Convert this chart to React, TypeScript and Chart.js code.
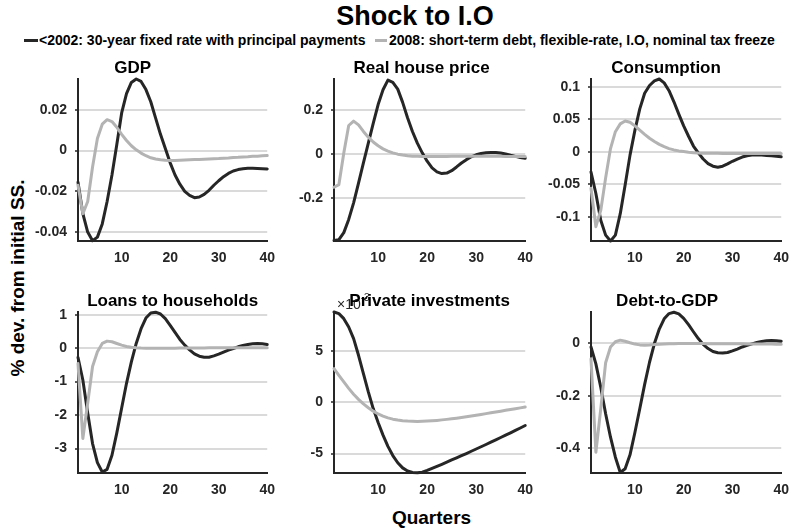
import { useEffect, useRef } from "react";
import { Chart, registerables } from "chart.js";

Chart.register(...registerables);

const FONT = '"Liberation Sans", Arial, Helvetica, sans-serif';
const DARK = "#262626";
const LIGHT = "#b3b3b3";
const GRID = "#dadada";

// Quarters after the shock
const QUARTERS = [
  1, 2, 3, 4, 5, 6, 7, 8, 9, 10, 11, 12, 13, 14, 15, 16, 17, 18, 19, 20,
  21, 22, 23, 24, 25, 26, 27, 28, 29, 30, 31, 32, 33, 34, 35, 36, 37, 38, 39, 40,
];
const X_TICKS = [10, 20, 30, 40];

const SERIES_2002 = "<2002: 30-year fixed rate with principal payments";
const SERIES_2008 = "2008: short-term debt, flexible-rate, I.O, nominal tax freeze";

// GDP
const GDP_2002 = [
  -0.0155, -0.031, -0.040, -0.0443, -0.0425, -0.036, -0.025, -0.012, 0.003, 0.0185,
  0.028, 0.0335, 0.0352, 0.034, 0.030, 0.024, 0.016, 0.008, 0.001, -0.006,
  -0.012, -0.0165, -0.020, -0.022, -0.0231, -0.0228, -0.0215, -0.0195, -0.017, -0.0148,
  -0.0128, -0.0112, -0.0100, -0.0093, -0.0089, -0.0087, -0.0087, -0.0088, -0.0089, -0.0090,
];
const GDP_2008 = [
  -0.017, -0.031, -0.025, -0.008, 0.006, 0.013, 0.0152, 0.0143, 0.0115, 0.008,
  0.005, 0.0024, 0.0004, -0.0012, -0.0025, -0.0035, -0.0041, -0.0045, -0.0047, -0.0048,
  -0.0048, -0.0047, -0.0046, -0.0045, -0.0044, -0.0043, -0.0042, -0.0041, -0.004, -0.0039,
  -0.0037, -0.0036, -0.0034, -0.0033, -0.0031, -0.003, -0.0028, -0.0027, -0.0025, -0.0024,
];
const GDP_TICKS = [-0.04, -0.02, 0, 0.02];
const GDP_RANGE = [-0.0444, 0.0352];

// Real house price
const HOUSE_2002 = [
  -0.392, -0.388, -0.356, -0.296, -0.221, -0.131, -0.04, 0.05, 0.14, 0.225,
  0.292, 0.336, 0.326, 0.295, 0.235, 0.165, 0.103, 0.05, 0.006, -0.032,
  -0.062, -0.08, -0.088, -0.086, -0.075, -0.058, -0.04, -0.025, -0.012, -0.003,
  0.003, 0.006, 0.0075, 0.0075, 0.005, 0.001, -0.005, -0.01, -0.015, -0.019,
];
const HOUSE_2008 = [
  -0.15, -0.138, 0.005, 0.13, 0.15, 0.133, 0.103, 0.077, 0.055, 0.038,
  0.024, 0.014, 0.006, 0.0, -0.004, -0.007, -0.009, -0.01, -0.011, -0.011,
  -0.011, -0.011, -0.0105, -0.0105, -0.01, -0.01, -0.0095, -0.0095, -0.0095, -0.0095,
  -0.0095, -0.0095, -0.01, -0.01, -0.01, -0.0105, -0.0105, -0.0105, -0.011, -0.011,
];
const HOUSE_TICKS = [-0.2, 0, 0.2];
const HOUSE_RANGE = [-0.394, 0.341];

// Consumption
const CONS_2002 = [
  -0.031, -0.064, -0.105, -0.128, -0.137, -0.128, -0.095, -0.051, -0.005, 0.033,
  0.066, 0.09, 0.102, 0.109, 0.112, 0.106, 0.094, 0.077, 0.058, 0.04,
  0.024, 0.009, -0.0015, -0.011, -0.018, -0.022, -0.0235, -0.022, -0.0185, -0.0145,
  -0.011, -0.008, -0.006, -0.005, -0.0046, -0.0048, -0.0054, -0.006, -0.0066, -0.0075,
];
const CONS_2008 = [
  -0.056, -0.115, -0.09, -0.04, 0.005, 0.031, 0.043, 0.0475, 0.0455, 0.04,
  0.0335, 0.027, 0.021, 0.016, 0.0115, 0.008, 0.005, 0.003, 0.0015, 0.0005,
  -0.0005, -0.0012, -0.0017, -0.002, -0.0022, -0.0023, -0.0023, -0.0024, -0.0024, -0.0024,
  -0.0024, -0.0025, -0.0025, -0.0025, -0.0025, -0.0025, -0.0025, -0.0025, -0.0025, -0.0025,
];
const CONS_TICKS = [-0.1, -0.05, 0, 0.05, 0.1];
const CONS_RANGE = [-0.137, 0.112];

// Loans to households
const LOANS_2002 = [
  -0.28, -0.95, -1.94, -2.85, -3.42, -3.7, -3.62, -3.2, -2.53, -1.79,
  -1.05, -0.41, 0.14, 0.58, 0.9, 1.05, 1.075, 1.02, 0.88, 0.68,
  0.47, 0.26, 0.09, -0.05, -0.17, -0.24, -0.27, -0.27, -0.23, -0.18,
  -0.12, -0.06, -0.01, 0.04, 0.08, 0.11, 0.13, 0.14, 0.13, 0.11,
];
const LOANS_2008 = [
  -0.46, -2.7, -1.64, -0.55, -0.11, 0.14, 0.21, 0.19, 0.14, 0.09,
  0.05, 0.03, 0.015, 0.005, 0.0, -0.005, -0.005, -0.005, 0.0, 0.0,
  0.0, 0.005, 0.005, 0.005, 0.005, 0.005, 0.005, 0.01, 0.01, 0.01,
  0.01, 0.01, 0.01, 0.015, 0.015, 0.015, 0.015, 0.015, 0.015, 0.015,
];
const LOANS_TICKS = [-3, -2, -1, 0, 1];
const LOANS_RANGE = [-3.73, 1.08];

// Private investments (in units of 10^-3)
const INVEST_2002 = [
  8.8, 8.64, 8.15, 7.34, 6.2, 4.58, 2.79, 1.01, -0.62, -1.98,
  -3.21, -4.3, -5.2, -5.9, -6.4, -6.7, -6.85, -6.88, -6.82, -6.65,
  -6.45, -6.25, -6.05, -5.84, -5.63, -5.42, -5.21, -5.0, -4.78, -4.56,
  -4.34, -4.12, -3.89, -3.67, -3.44, -3.21, -2.98, -2.75, -2.51, -2.27,
];
const INVEST_2008 = [
  3.28, 2.63, 1.98, 1.35, 0.78, 0.28, -0.16, -0.54, -0.87, -1.14,
  -1.35, -1.52, -1.65, -1.74, -1.8, -1.84, -1.86, -1.87, -1.86, -1.84,
  -1.81, -1.77, -1.72, -1.67, -1.61, -1.55, -1.48, -1.41, -1.34, -1.27,
  -1.19, -1.11, -1.03, -0.95, -0.87, -0.79, -0.71, -0.63, -0.55, -0.46,
];
const INVEST_TICKS = [-5, 0, 5];
const INVEST_RANGE = [-6.9, 8.8];

// Debt-to-GDP
const DEBT_2002 = [
  -0.015, -0.079, -0.168, -0.269, -0.358, -0.434, -0.492, -0.478, -0.425, -0.34,
  -0.25, -0.157, -0.073, -0.002, 0.053, 0.092, 0.112, 0.117, 0.111, 0.094,
  0.07, 0.043, 0.017, -0.005, -0.021, -0.032, -0.037, -0.038, -0.036, -0.03,
  -0.023, -0.015, -0.009, -0.003, 0.002, 0.006, 0.009, 0.0095, 0.009, 0.007,
];
const DEBT_2008 = [
  -0.06, -0.415, -0.25, -0.075, -0.015, 0.005, 0.011, 0.007, 0.001, -0.004,
  -0.007, -0.008, -0.0075, -0.006, -0.005, -0.004, -0.003, -0.0025, -0.002, -0.002,
  -0.002, -0.002, -0.002, -0.002, -0.0025, -0.0025, -0.0025, -0.003, -0.003, -0.003,
  -0.003, -0.003, -0.0035, -0.0035, -0.0035, -0.004, -0.004, -0.004, -0.0045, -0.0045,
];
const DEBT_TICKS = [-0.4, -0.2, 0];
const DEBT_RANGE = [-0.494, 0.118];

// Subplot geometry (plot-area box in page pixels)
const AXIS_W = 60;
const AXIS_H = 32;
const PAD_TOP = 30;
const PAD_RIGHT = 12;

type Panel = {
  title: string;
  a: number[];
  b: number[];
  ticks: number[];
  range: number[];
  left: number;
  top: number;
  width: number;
  height: number;
  titleShift: number;
  exponent?: string;
};

const PANELS: Panel[] = [
  { title: "GDP", a: GDP_2002, b: GDP_2008, ticks: GDP_TICKS, range: GDP_RANGE, left: 78, top: 79, width: 194, height: 162, titleShift: -40 },
  { title: "Real house price", a: HOUSE_2002, b: HOUSE_2008, ticks: HOUSE_TICKS, range: HOUSE_RANGE, left: 334, top: 79, width: 196, height: 162, titleShift: -8 },
  { title: "Consumption", a: CONS_2002, b: CONS_2008, ticks: CONS_TICKS, range: CONS_RANGE, left: 591, top: 79, width: 195, height: 162, titleShift: -20 },
  { title: "Loans to households", a: LOANS_2002, b: LOANS_2008, ticks: LOANS_TICKS, range: LOANS_RANGE, left: 78, top: 312, width: 194, height: 161, titleShift: 0 },
  { title: "Private investments", a: INVEST_2002, b: INVEST_2008, ticks: INVEST_TICKS, range: INVEST_RANGE, left: 334, top: 312, width: 196, height: 161, titleShift: 0, exponent: "-3" },
  { title: "Debt-to-GDP", a: DEBT_2002, b: DEBT_2008, ticks: DEBT_TICKS, range: DEBT_RANGE, left: 591, top: 312, width: 195, height: 161, titleShift: -19 },
];

function decorations(panel: Panel) {
  return {
    id: "panelDecorations",
    afterDraw(chart: Chart) {
      const { ctx, chartArea } = chart;
      ctx.save();
      ctx.fillStyle = DARK;
      ctx.textBaseline = "alphabetic";
      if (panel.exponent) {
        ctx.textAlign = "left";
        ctx.font = `14px ${FONT}`;
        const x0 = chartArea.left + 3;
        const y0 = chartArea.top - 3;
        ctx.fillText("\u00d710", x0, y0);
        const w = ctx.measureText("\u00d710").width;
        ctx.font = `10px ${FONT}`;
        ctx.fillText(panel.exponent, x0 + w, y0 - 8);
      }
      ctx.fillStyle = "#000";
      ctx.textAlign = "center";
      ctx.font = `bold 17px ${FONT}`;
      ctx.fillText(panel.title, (chartArea.left + chartArea.right) / 2 + panel.titleShift, chartArea.top - 6);
      ctx.restore();
    },
  };
}

function series(values: number[], color: string, order: number) {
  return {
    data: QUARTERS.map((q, i) => ({ x: q, y: values[i] })),
    borderColor: color,
    borderWidth: 3,
    borderCapStyle: "round" as const,
    borderJoinStyle: "round" as const,
    pointRadius: 0,
    tension: 0,
    fill: false,
    clip: false as const,
    order,
  };
}

function PanelChart({ panel }: { panel: Panel }) {
  const ref = useRef<HTMLCanvasElement>(null);
  const cw = AXIS_W + panel.width + PAD_RIGHT;
  const ch = PAD_TOP + panel.height + AXIS_H;

  useEffect(() => {
    const canvas = ref.current;
    if (!canvas) return;
    const tickFont = { family: FONT, size: 14, weight: "bold" as const };
    const chart = new Chart(canvas, {
      type: "line",
      data: {
        datasets: [series(panel.a, DARK, 2), series(panel.b, LIGHT, 1)],
      },
      options: {
        responsive: false,
        animation: false,
        events: [],
        layout: { padding: { top: PAD_TOP, right: PAD_RIGHT, left: 0, bottom: 0 } },
        plugins: {
          legend: { display: false },
          tooltip: { enabled: false },
          title: { display: false },
        },
        scales: {
          x: {
            type: "linear",
            min: 1,
            max: 40,
            afterBuildTicks: (s: any) => {
              s.ticks = X_TICKS.map((v) => ({ value: v }));
            },
            afterFit: (s: any) => {
              s.height = AXIS_H;
            },
            grid: { drawOnChartArea: false, drawTicks: false },
            border: { display: true, color: DARK, width: 2 },
            ticks: {
              font: tickFont,
              color: DARK,
              padding: 9,
              maxRotation: 0,
              autoSkip: false,
              callback: (v: any) => String(v),
            },
          },
          y: {
            type: "linear",
            min: panel.range[0],
            max: panel.range[1],
            afterBuildTicks: (s: any) => {
              s.ticks = panel.ticks.map((v) => ({ value: v }));
            },
            afterFit: (s: any) => {
              s.width = AXIS_W;
            },
            grid: {
              color: GRID,
              lineWidth: 2,
              drawTicks: true,
              tickLength: 3,
              tickColor: DARK,
              tickWidth: 1.5,
            },
            border: { display: true, color: DARK, width: 2 },
            ticks: {
              font: tickFont,
              color: DARK,
              padding: 8,
              autoSkip: false,
              callback: (v: any) => String(v),
            },
          },
        },
      },
      plugins: [decorations(panel)],
    } as any);
    return () => chart.destroy();
  }, [panel]);

  return (
    <canvas
      ref={ref}
      width={cw}
      height={ch}
      style={{
        position: "absolute",
        left: panel.left - AXIS_W,
        top: panel.top - PAD_TOP,
        width: cw,
        height: ch,
      }}
    />
  );
}

export default function App() {
  const text = { position: "absolute" as const, whiteSpace: "nowrap" as const, fontWeight: "bold" as const };
  return (
    <div
      style={{
        position: "absolute",
        left: 0,
        top: 0,
        width: 794,
        height: 530,
        overflow: "hidden",
        background: "#fff",
        fontFamily: FONT,
        color: "#000",
      }}
    >
      <div style={{ ...text, left: 415, top: 3, transform: "translateX(-50%)", fontSize: 27, lineHeight: "27px" }}>
        Shock to I.O
      </div>

      <div style={{ position: "absolute", left: 24, top: 39, width: 14, height: 3, background: DARK }} />
      <div style={{ ...text, left: 39, top: 33, fontSize: 14, lineHeight: "14px" }}>{SERIES_2002}</div>
      <div style={{ position: "absolute", left: 375, top: 39, width: 12, height: 3, background: LIGHT }} />
      <div style={{ ...text, left: 389, top: 33, fontSize: 14, lineHeight: "14px" }}>{SERIES_2008}</div>

      <div
        style={{
          ...text,
          left: 16.5,
          top: 277.5,
          transform: "translate(-50%, -50%) rotate(-90deg)",
          fontSize: 19,
          lineHeight: "19px",
        }}
      >
        % dev. from initial SS.
      </div>
      <div style={{ ...text, left: 431.5, top: 508, transform: "translateX(-50%)", fontSize: 19, lineHeight: "19px" }}>
        Quarters
      </div>

      {PANELS.map((p) => (
        <PanelChart key={p.title} panel={p} />
      ))}
    </div>
  );
}
